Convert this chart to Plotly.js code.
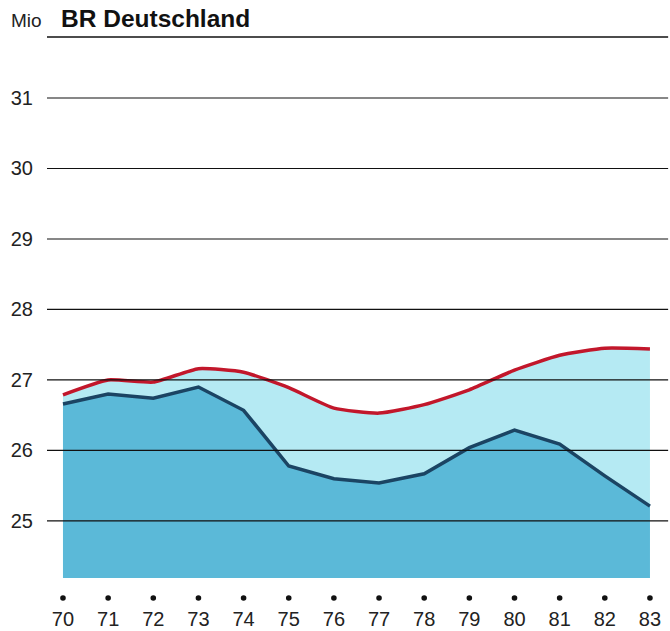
<!DOCTYPE html>
<html><head><meta charset="utf-8">
<script src="https://cdn.plot.ly/plotly-3.0.1.min.js"></script>
<style>html,body{margin:0;padding:0;background:#fff}</style>
</head><body><div id="chart" style="width:670px;height:631px"></div>
<script>
const years = [70,71,72,73,74,75,76,77,78,79,80,81,82,83];
const yearLabels = ["70","71","72","73","74","75","76","77","78","79","80","81","82","83"];
const seriesUpper = [26.79,27.00,26.97,27.16,27.11,26.89,26.60,26.53,26.65,26.86,27.14,27.35,27.45,27.44];
const seriesLower = [26.66,26.80,26.74,26.90,26.57,25.78,25.60,25.54,25.67,26.04,26.29,26.09,25.64,25.21];
const yTicks = [25,26,27,28,29,30,31];

const plotTop = 37, plotBottom = 578, W = 670, H = 631, L = 47;
const yRange = [24.191, 31.865];
const xRange = [69.646, 83.444];

const traces = [
  {x: years, y: seriesUpper, type: 'scatter', mode: 'lines', fill: 'tozeroy',
   fillcolor: '#b5eaf3', line: {color: '#c2172b', width: 3.5, shape: 'spline', smoothing: 0.5},
   hoverinfo: 'skip', showlegend: false},
  {x: years, y: seriesLower, type: 'scatter', mode: 'lines', fill: 'tozeroy',
   fillcolor: '#5bb9d8', line: {color: '#1b4463', width: 3.5, shape: 'linear'},
   hoverinfo: 'skip', showlegend: false}
];

const shapes = yTicks.map(v => ({type: 'line', xref: 'paper', yref: 'y', x0: 0, x1: 0.997, y0: v, y1: v,
  line: {color: '#111', width: 1.2}, layer: 'above'}));
shapes.push({type: 'line', xref: 'paper', yref: 'paper', x0: 0, x1: 0.997, y0: 1, y1: 1,
  line: {color: '#111', width: 1.3}, layer: 'above'});
years.forEach(yr => shapes.push({type: 'circle', xref: 'x', yref: 'paper', xsizemode: 'pixel', ysizemode: 'pixel',
  xanchor: yr, yanchor: 0, x0: -2.8, x1: 2.8, y0: -22.8, y1: -17.2,
  fillcolor: '#111', line: {width: 0}, layer: 'above'}));

const layout = {
  width: W, height: H,
  margin: {l: L, r: 0, t: plotTop, b: H - plotBottom, pad: 0},
  paper_bgcolor: '#fff', plot_bgcolor: '#fff',
  font: {family: 'Liberation Sans, Arial, sans-serif', color: '#222'},
  xaxis: {range: xRange, tickvals: years, ticktext: yearLabels, showgrid: false, zeroline: false,
    showline: false, ticks: '', tickfont: {size: 20}, ticklabelstandoff: 27, fixedrange: true},
  yaxis: {range: yRange, tickvals: yTicks, ticktext: yTicks.map(String), showgrid: false, zeroline: false,
    showline: false, ticks: '', tickfont: {size: 20}, ticklabelstandoff: 13, fixedrange: true},
  shapes: shapes,
  annotations: [
    {xref: 'paper', yref: 'paper', x: (9 - L) / (W - L), y: 1, yshift: 17, xanchor: 'left', yanchor: 'middle',
     text: 'Mio', showarrow: false, font: {size: 19, color: '#222'}},
    {xref: 'paper', yref: 'paper', x: (59 - L) / (W - L), y: 1, yshift: 19, xanchor: 'left', yanchor: 'middle',
     text: '<b>BR Deutschland</b>', showarrow: false, font: {size: 24.5, color: '#111'}}
  ]
};
Plotly.newPlot('chart', traces, layout, {displayModeBar: false, staticPlot: true});
</script></body></html>
